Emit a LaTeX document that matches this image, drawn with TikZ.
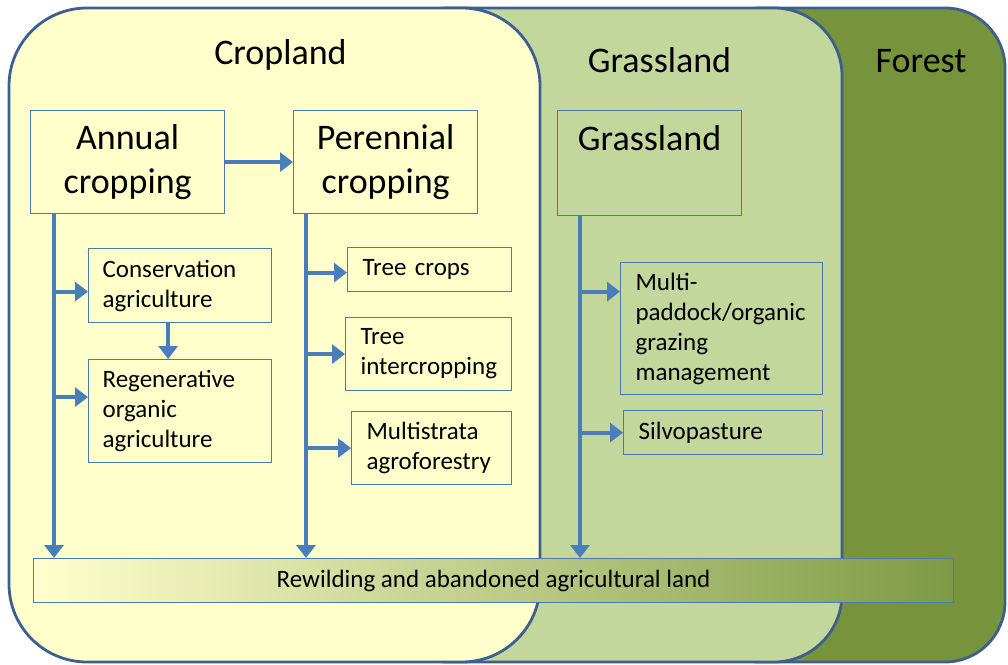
\documentclass[tikz,border=0pt]{standalone}
\usepackage{fontspec}
\setmainfont{Carlito}
\usetikzlibrary{arrows.meta}
\definecolor{cropc}{HTML}{FFFFCC}
\definecolor{grassc}{HTML}{C3D69B}
\definecolor{forestc}{HTML}{77933C}
\definecolor{regionedge}{HTML}{3C5F90}
\definecolor{arrc}{HTML}{4A7EBB}
\definecolor{boxedge}{HTML}{4F78B0}
\hyphenpenalty=10000
\exhyphenpenalty=10000
\begin{document}
\begin{tikzpicture}[x=1pt,y=-1pt,
  region/.style={draw=regionedge,line width=2.8pt},
  regtitle/.style={font=\fontsize{36}{44}\selectfont,anchor=base,inner sep=0pt},
  bigbox/.style={draw=boxedge,line width=1.2pt,anchor=north west,align=center,
     font=\fontsize{36}{44}\selectfont,inner xsep=6pt,inner ysep=0pt},
  smallbox/.style={draw=boxedge,line width=1.2pt,anchor=north west,align=left,
     font=\fontsize{25}{30}\selectfont,inner ysep=0pt},
  arrline/.style={draw=arrc,line width=3.8pt},
  arrtip/.style={arrline,-{Triangle[width=19pt,length=13pt]}}
]
\useasboundingbox (0,0) rectangle (1008,664);

% regions
\draw[region,fill=forestc,rounded corners=60pt] (700,8) rectangle (1005,662);
\draw[region,fill=grassc,rounded corners=68pt] (380,8) rectangle (842,662);
\draw[region,fill=cropc,rounded corners=78pt] (9,8) rectangle (540,662);

\node[regtitle] (tcrop) at (280.5,64) {Cropland};
\node[regtitle] (tgrass) at (659.5,72) {Grassland};
\node[regtitle] (tforest) at (921,72) {Forest};

% top boxes
\node[bigbox,fill=cropc,minimum width=194pt,minimum height=103pt,text width=182pt] (annual) at (30,110) {Annual\\cropping};
\node[bigbox,fill=cropc,minimum width=184pt,minimum height=103pt,text width=172pt] (perennial) at (293,110) {Perennial\\cropping};
\node[bigbox,fill=grassc,minimum width=184pt,minimum height=105pt,text width=172pt] (grassbox) at (557,110) {Grassland\\\phantom{cropping}};

% cropland sub boxes
\node[smallbox,fill=cropc,inner xsep=14pt,text width=155pt,minimum height=74pt] (cons) at (88,248) {Conservation\\agriculture};
\node[smallbox,fill=cropc,inner xsep=14pt,text width=155pt,minimum height=103pt] (regen) at (88,359) {Regenerative\\organic\\agriculture};
\node[smallbox,fill=cropc,inner xsep=15pt,text width=134pt,minimum height=44pt] (treecrops) at (347,247) {\mbox{Tree crops}};
\node[smallbox,fill=cropc,inner xsep=15pt,text width=136pt,minimum height=73pt] (intercrop) at (345,317) {Tree\\intercropping};
\node[smallbox,fill=cropc,inner xsep=15pt,text width=130pt,minimum height=73pt] (multistrata) at (351,411) {Multistrata\\agroforestry};

% grassland sub boxes
\node[smallbox,fill=grassc,inner xsep=15pt,text width=172pt,minimum height=132pt] (paddock) at (620,262) {Multi-\\paddock/organic\\grazing\\management};
\node[smallbox,fill=grassc,inner xsep=15pt,text width=169pt,minimum height=44pt] (silvo) at (623,410) {Silvopasture};

% rewilding bar
\node[draw=boxedge,line width=1.2pt,anchor=north west,minimum width=920pt,minimum height=44pt,
  left color=cropc,middle color={rgb,255:red,204;green,221;blue,163},right color={rgb,255:red,126;green,154;blue,70},
  font=\fontsize{25}{30}\selectfont,inner sep=0pt] (rewild) at (33,558) {Rewilding and abandoned agricultural land};

% connectors
\draw[arrtip] (annual.east) -- (perennial.west);

\coordinate (va) at ([xshift=24pt]annual.south west);
\coordinate (vp) at ([xshift=13pt]perennial.south west);
\coordinate (vg) at ([xshift=23pt]grassbox.south west);

\draw[arrtip] (va) -- (va |- rewild.north);
\draw[arrtip] (vp) -- (vp |- rewild.north);
\draw[arrtip] (vg) -- (vg |- rewild.north);

\coordinate (bcons) at ([yshift=-6pt]cons.west);
\coordinate (bregen) at ([yshift=14pt]regen.west);
\coordinate (btree) at ([yshift=-3pt]treecrops.west);
\coordinate (binter) at (intercrop.west);
\coordinate (bmulti) at (multistrata.west);
\coordinate (bpad) at ([yshift=37pt]paddock.west);
\coordinate (bsilvo) at (silvo.west);

\draw[arrtip] (va |- bcons) -- (bcons);
\draw[arrtip] (va |- bregen) -- (bregen);
\draw[arrtip] (vp |- btree) -- (btree);
\draw[arrtip] (vp |- binter) -- (binter);
\draw[arrtip] (vp |- bmulti) -- (bmulti);
\draw[arrtip] (vg |- bpad) -- (bpad);
\draw[arrtip] (vg |- bsilvo) -- (bsilvo);

\draw[arrtip] ([xshift=-12pt]cons.south) -- ([xshift=-12pt]regen.north);
\end{tikzpicture}
\end{document}
